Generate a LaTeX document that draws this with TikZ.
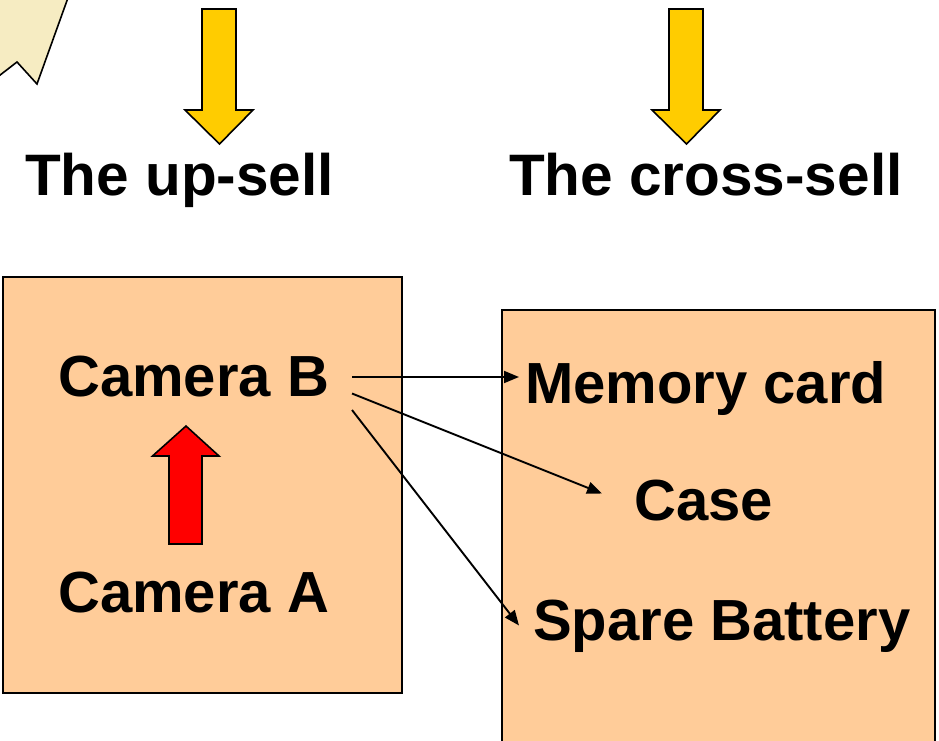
\documentclass[tikz,border=0pt]{standalone}
\usepackage{fontspec}
\setmainfont{Liberation Sans}
\usetikzlibrary{arrows.meta}
\definecolor{boxfill}{HTML}{FFCC99}
\definecolor{calloutfill}{HTML}{F6ECC2}
\definecolor{arrowyellow}{HTML}{FFCC00}
\begin{document}
\begin{tikzpicture}[x=1pt,y=-1pt,
  title/.style={font=\fontsize{58.5}{58.5}\selectfont\bfseries, inner sep=0pt, anchor=base west},
  item/.style={font=\fontsize{58}{58}\selectfont\bfseries, inner sep=0pt, anchor=base west},
  panel/.style={draw=black, line width=1.5pt, fill=boxfill},
  blockarrow/.style={draw=black, line width=1.6pt, line join=miter},
  link/.style={draw=black, line width=1.9pt, -{Triangle[length=15pt,width=12pt]}}]
\useasboundingbox (0,0) rectangle (939,741);
\clip (0,0) rectangle (939,741);
% callout fragment
\draw[fill=calloutfill, line width=1.6pt] (-5,-5) -- (69,-5) -- (37,84) -- (17,62) -- (-5,79) -- cycle;
% yellow arrows
\draw[blockarrow, fill=arrowyellow] (202,9) -- (236,9) -- (236,110) -- (253,110) -- (219.5,144) -- (185,110) -- (202,110) -- cycle;
\draw[blockarrow, fill=arrowyellow] (669,9) -- (703,9) -- (703,110) -- (720,110) -- (686.5,144) -- (652,110) -- (669,110) -- cycle;
% titles
\node[title] (up) at (25,195) {The up-sell};
\node[title] (cross) at (509,195) {The cross-sell};
% panels
\draw[panel] (3,277) rectangle (402,693);
\draw[panel] (502,310) rectangle (935,760);
% left items
\node[item] (camB) at (58,396) {Camera B};
\node[item] (camA) at (58,612) {Camera A};
% red arrow
\draw[blockarrow, fill=red] (169,544) -- (202,544) -- (202,456) -- (219,456) -- (186,426) -- (152.5,456) -- (169,456) -- cycle;
% right items
\node[item] (mem) at (525,403) {Memory card};
\node[item] (case) at (634,520) {Case};
\node[item] (spare) at (533,640) {Spare Battery};
% connectors
\coordinate (s1) at (352,377);
\coordinate (s2) at (352,393.5);
\coordinate (s3) at (352,410);
\coordinate (e1) at (519,377);
\coordinate (e2) at (602,493.5);
\coordinate (e3) at (519,625.5);
\draw[link] (s1) -- (e1);
\draw[link] (s2) -- (e2);
\draw[link] (s3) -- (e3);
\end{tikzpicture}
\end{document}
